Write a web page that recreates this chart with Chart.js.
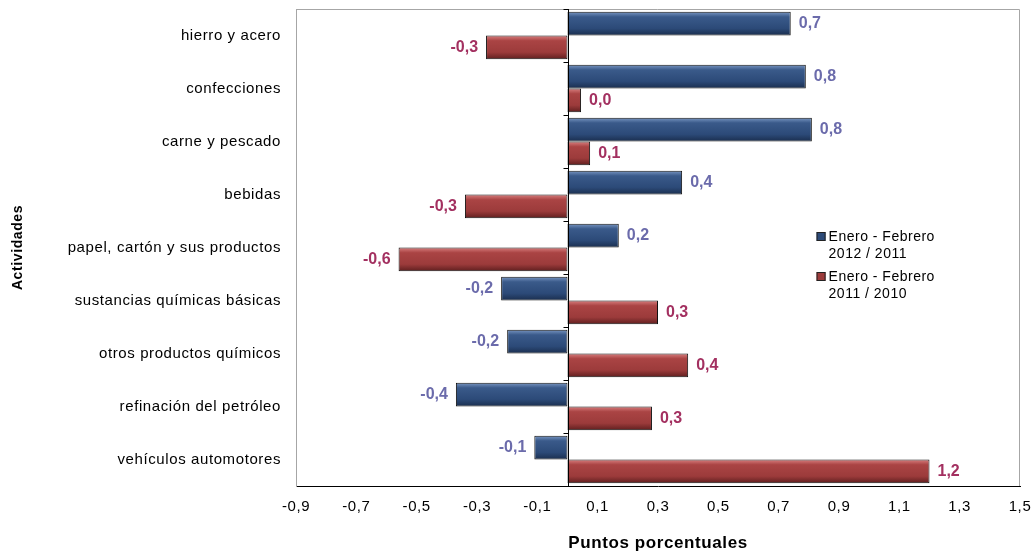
<!DOCTYPE html>
<html>
<head>
<meta charset="utf-8">
<script src="https://cdn.jsdelivr.net/npm/chart.js@4/dist/chart.umd.min.js"></script>
<style>
  body { margin: 0; background: #fff; }
  canvas { display: block; }
</style>
</head>
<body>
<canvas id="chart" width="1033" height="556"></canvas>
<script>
const categories = [
  'hierro y acero',
  'confecciones',
  'carne y pescado',
  'bebidas',
  'papel, cartón y sus productos',
  'sustancias químicas básicas',
  'otros productos químicos',
  'refinación del petróleo',
  'vehículos automotores'
];
const series2012 = [0.74, 0.79, 0.81, 0.38, 0.17, -0.22, -0.20, -0.37, -0.11];
const series2011 = [-0.27, 0.045, 0.075, -0.34, -0.56, 0.30, 0.40, 0.28, 1.2];
const seriesNames = [
  ['Enero - Febrero', '2012 / 2011'],
  ['Enero - Febrero', '2011 / 2010']
];
const xMin = -0.9, xMax = 1.5, xStep = 0.2;

const FONT = '"Liberation Sans", Arial, sans-serif';
const blueStops = ['#7b98c4', '#3a5a8a', '#2c4a78', '#1a2e4e'];
const redStops = ['#d98080', '#aa4444', '#9c3b3b', '#5e1e1e'];
const labelColors = ['#6b6bab', '#a33060'];
const CAT_PCT = 0.9;

// vertical gradient per bar, bars are half a category each
function barFill(context, dsIndex, stops) {
  const chart = context.chart;
  const y = chart.scales.y;
  if (!y || context.dataIndex === undefined || !chart.chartArea) return stops[2];
  const center = y.getPixelForValue(context.dataIndex);
  const cat = (y.bottom - y.top) / categories.length;
  const thick = cat * CAT_PCT / 2;
  const top = dsIndex === 0 ? center - thick : center;
  const g = chart.ctx.createLinearGradient(0, top, 0, top + thick);
  g.addColorStop(0, stops[0]);
  g.addColorStop(0.22, stops[1]);
  g.addColorStop(0.7, stops[2]);
  g.addColorStop(1, stops[3]);
  return g;
}

function noPad(s) {
  s.paddingTop = 0;
  s.paddingBottom = 0;
  s.paddingLeft = 0;
  s.paddingRight = 0;
}

const extras = {
  id: 'extras',
  beforeDraw(chart) {
    // the reference text is set a little loose
    chart.ctx.letterSpacing = '0.6px';
  },
  afterDatasetsDraw(chart) {
    const ctx = chart.ctx;
    const area = chart.chartArea;
    const x = chart.scales.x;
    ctx.save();

    // top / right frame
    ctx.strokeStyle = '#a6a6a6';
    ctx.lineWidth = 1;
    ctx.beginPath();
    ctx.moveTo(area.left, area.top + 0.5);
    ctx.lineTo(area.right - 0.5, area.top + 0.5);
    ctx.lineTo(area.right - 0.5, area.bottom);
    ctx.stroke();

    // zero line with category ticks
    const zx = Math.round(x.getPixelForValue(0)) + 0.5;
    ctx.strokeStyle = '#000';
    ctx.beginPath();
    ctx.moveTo(zx, area.top);
    ctx.lineTo(zx, area.bottom);
    const cat = (area.bottom - area.top) / categories.length;
    for (let i = 0; i <= categories.length; i++) {
      const ty = Math.round(area.top + i * cat) + 0.5;
      ctx.moveTo(zx - 5, ty);
      ctx.lineTo(zx, ty);
    }
    ctx.stroke();

    // data labels
    ctx.letterSpacing = '0px';
    ctx.font = 'bold 16px ' + FONT;
    ctx.textBaseline = 'middle';
    chart.data.datasets.forEach((ds, di) => {
      const meta = chart.getDatasetMeta(di);
      ctx.fillStyle = labelColors[di];
      meta.data.forEach((bar, i) => {
        const v = ds.data[i];
        const txt = v.toFixed(1).replace('.', ',');
        if (v >= 0) {
          ctx.textAlign = 'left';
          ctx.fillText(txt, bar.x + 8, bar.y);
        } else {
          ctx.textAlign = 'right';
          ctx.fillText(txt, bar.x - 8, bar.y);
        }
      });
    });

    // legend
    const lx = area.left + (area.right - area.left) * 0.719;
    const ly = area.top + 223;
    ctx.letterSpacing = '0.5px';
    ctx.font = '14px ' + FONT;
    ctx.textAlign = 'left';
    ctx.textBaseline = 'middle';
    seriesNames.forEach((lines, i) => {
      const top = ly + i * 40;
      const stops = i === 0 ? blueStops : redStops;
      ctx.fillStyle = stops[2];
      ctx.fillRect(lx, top, 9, 9);
      ctx.strokeStyle = '#222';
      ctx.strokeRect(lx + 0.5, top + 0.5, 8, 8);
      ctx.fillStyle = '#000';
      lines.forEach((line, k) => {
        ctx.fillText(line, lx + 12, top + 5 + k * 17);
      });
    });

    ctx.restore();
  }
};

new Chart(document.getElementById('chart'), {
  type: 'bar',
  data: {
    labels: categories,
    datasets: [
      {
        label: seriesNames[0].join(' '),
        data: series2012,
        backgroundColor: c => barFill(c, 0, blueStops),
        borderColor: '#111',
        borderWidth: 1,
        borderSkipped: false,
        categoryPercentage: CAT_PCT,
        barPercentage: 1
      },
      {
        label: seriesNames[1].join(' '),
        data: series2011,
        backgroundColor: c => barFill(c, 1, redStops),
        borderColor: '#111',
        borderWidth: 1,
        borderSkipped: false,
        categoryPercentage: CAT_PCT,
        barPercentage: 1
      }
    ]
  },
  options: {
    indexAxis: 'y',
    responsive: false,
    animation: false,
    devicePixelRatio: 1,
    layout: { padding: { left: 0, top: 9, right: 13, bottom: 0 } },
    plugins: {
      legend: { display: false },
      tooltip: { enabled: false }
    },
    scales: {
      x: {
        min: xMin,
        max: xMax,
        ticks: {
          stepSize: xStep,
          color: '#000',
          padding: 12,
          maxRotation: 0,
          font: { family: FONT, size: 15 },
          callback: v => v.toFixed(1).replace('.', ',')
        },
        grid: { display: false, drawTicks: false },
        border: { display: true, color: '#000', width: 1 },
        title: {
          display: true,
          text: 'Puntos porcentuales',
          color: '#000',
          font: { family: FONT, size: 17, weight: 'bold' },
          padding: { top: 4, bottom: 2 }
        },
        afterFit: s => { s.height = 70; noPad(s); }
      },
      y: {
        ticks: {
          color: '#000',
          padding: 15,
          font: { family: FONT, size: 15 }
        },
        grid: { display: false, drawTicks: false },
        border: { display: true, color: '#a6a6a6', width: 1 },
        title: {
          display: true,
          text: 'Actividades',
          color: '#000',
          font: { family: FONT, size: 14, weight: 'bold' },
          padding: { top: 10, bottom: 4 }
        },
        afterFit: s => { s.width = 296; noPad(s); }
      }
    }
  },
  plugins: [extras]
});
</script>
</body>
</html>
